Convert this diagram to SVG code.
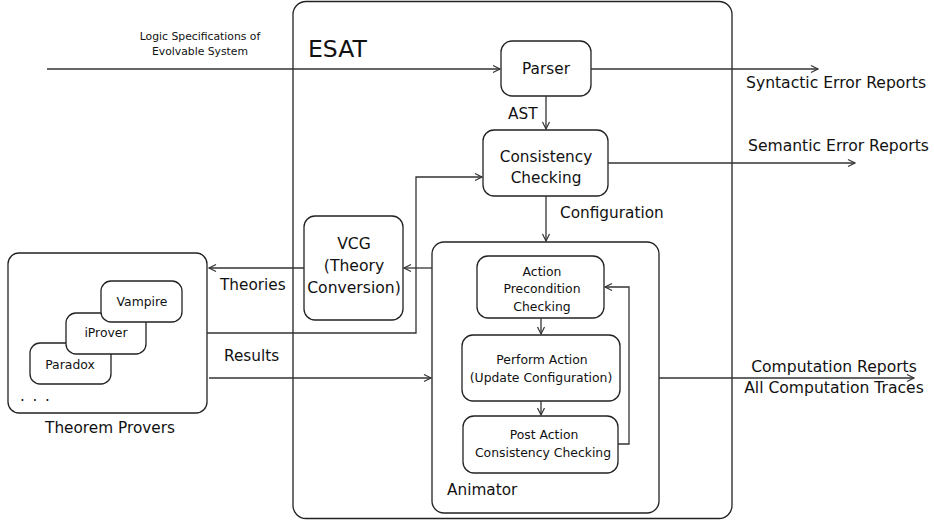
<svg xmlns="http://www.w3.org/2000/svg" width="934" height="520" viewBox="0 0 934 520">
<defs>
<style>
.b{fill:#fff;stroke:#222;stroke-width:1.3}
.l{fill:none;stroke:#333;stroke-width:1.3}
text{font-family:"DejaVu Sans",sans-serif;fill:#111;text-anchor:middle}
.s{font-size:10.8px}
.m{font-size:12.4px}
.n{font-size:15.3px}
.g{font-size:15.6px}
.st{text-anchor:start}
</style>
<marker id="a" markerWidth="10" markerHeight="10" refX="8" refY="5" orient="auto" markerUnits="userSpaceOnUse">
<path d="M1,1.5 L8,5 L1,8.5" fill="none" stroke="#333" stroke-width="1.2"/>
</marker>
</defs>
<g id="esat"><rect class="b" x="293" y="1.5" width="439" height="517" rx="13"/><text x="308" y="57" style="font-size:23.5px" class="st">ESAT</text></g>
<g id="parser"><rect class="b" x="501" y="41" width="90" height="55" rx="11"/><text class="n" x="546" y="74">Parser</text></g>
<g id="consistency"><rect class="b" x="483" y="130" width="125" height="66" rx="11"/><text class="n" x="546" y="162">Consistency</text><text class="n" x="546" y="183">Checking</text></g>
<g id="vcg"><rect class="b" x="304" y="216" width="99" height="104" rx="11"/><text class="g" x="354" y="249">VCG</text><text class="g" x="354" y="271">(Theory</text><text class="g" x="354" y="293">Conversion)</text></g>
<g id="animator"><rect class="b" x="432" y="242" width="227" height="271" rx="12"/><text class="n st" x="447" y="495">Animator</text></g>
<g id="precondition"><rect class="b" x="477" y="256" width="127" height="62" rx="11"/><text class="m" x="542" y="276">Action</text><text class="m" x="542" y="293">Precondition</text><text class="m" x="542" y="311">Checking</text></g>
<g id="perform"><rect class="b" x="462" y="335" width="158" height="66" rx="11"/><text class="m" x="542" y="364">Perform Action</text><text class="m" x="541" y="382">(Update Configuration)</text></g>
<g id="post"><rect class="b" x="463" y="416" width="155" height="57" rx="11"/><text class="m" x="544" y="439">Post Action</text><text class="m" x="543" y="457">Consistency Checking</text></g>
<g id="provers"><rect class="b" x="8" y="253" width="199" height="160" rx="11"/><text class="n" x="110" y="433">Theorem Provers</text><text class="st" x="20" y="401" style="font-size:15px;letter-spacing:1.5px">. . .</text></g>
<g id="paradox"><rect class="b" x="30" y="343" width="81" height="41" rx="10"/><text class="m" x="70" y="369">Paradox</text></g>
<g id="iprover"><rect class="b" x="66" y="313" width="80" height="41" rx="10"/><text class="m" x="106" y="337">iProver</text></g>
<g id="vampire"><rect class="b" x="101" y="281" width="81" height="41" rx="10"/><text class="m" x="142" y="306">Vampire</text></g>
<g id="connectors">
<path class="l" d="M47,69 H500" marker-end="url(#a)"/>
<path class="l" d="M591,69 H818" marker-end="url(#a)"/>
<path class="l" d="M546,96 V129" marker-end="url(#a)"/>
<path class="l" d="M608,163 H855" marker-end="url(#a)"/>
<path class="l" d="M546,196 V241" marker-end="url(#a)"/>
<path class="l" d="M432,268 H404" marker-end="url(#a)"/>
<path class="l" d="M304,268 H209" marker-end="url(#a)"/>
<path class="l" d="M207,333 H416 V177 H482" marker-end="url(#a)"/>
<path class="l" d="M209,378 H431" marker-end="url(#a)"/>
<path class="l" d="M541,318 V334" marker-end="url(#a)"/>
<path class="l" d="M541,401 V415" marker-end="url(#a)"/>
<path class="l" d="M618,444 H629 V287 H605" marker-end="url(#a)"/>
<path class="l" d="M659,378 H914" marker-end="url(#a)"/>
</g>
<g id="labels">
<text class="s" x="200" y="40">Logic Specifications of</text>
<text class="s" x="200" y="55">Evolvable System</text>
<text class="g st" x="746" y="88">Syntactic Error Reports</text>
<text class="n st" x="508" y="119">AST</text>
<text class="g st" x="748" y="151">Semantic Error Reports</text>
<text class="n st" x="560" y="218">Configuration</text>
<text class="n st" x="220" y="290">Theories</text>
<text class="n st" x="224" y="361">Results</text>
<text class="g" x="834" y="372">Computation Reports</text>
<text class="g" x="834" y="393">All Computation Traces</text>
</g>
</svg>
